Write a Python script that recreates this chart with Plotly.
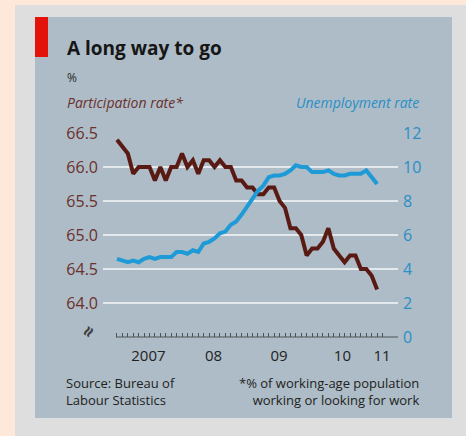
import plotly.graph_objects as go

# ---- data (monthly, Jan 2007 .. Jan 2011) ----
month_index = list(range(49))
participation = [66.4, 66.3, 66.2, 65.9, 66.0, 66.0, 66.0, 65.8, 66.0, 65.8, 66.0, 66.0,
                 66.2, 66.0, 66.1, 65.9, 66.1, 66.1, 66.0, 66.1, 66.0, 66.0, 65.8, 65.8,
                 65.7, 65.7, 65.6, 65.6, 65.7, 65.7, 65.5, 65.4, 65.1, 65.1, 65.0, 64.7,
                 64.8, 64.8, 64.9, 65.1, 64.8, 64.7, 64.6, 64.7, 64.7, 64.5, 64.5, 64.4,
                 64.2]
unemployment = [4.6, 4.5, 4.4, 4.5, 4.4, 4.6, 4.7, 4.6, 4.7, 4.7, 4.7, 5.0,
                5.0, 4.9, 5.1, 5.0, 5.5, 5.6, 5.8, 6.1, 6.2, 6.6, 6.8, 7.2,
                7.7, 8.2, 8.6, 8.9, 9.4, 9.5, 9.5, 9.6, 9.8, 10.1, 10.0, 10.0,
                9.7, 9.7, 9.7, 9.8, 9.6, 9.5, 9.5, 9.6, 9.6, 9.6, 9.8, 9.4,
                9.0]
year_label_pos = [5.8, 17.8, 29.9, 41.6, 48.9]
year_labels = ["2007", "08", "09", "10", "11"]
year_boundaries = [0, 12, 24, 36, 48]
left_ticks = [64.0, 64.5, 65.0, 65.5, 66.0, 66.5]
left_ticktext = ["64.0", "64.5", "65.0", "65.5", "66.0", "66.5"]
right_ticks = [0, 2, 4, 6, 8, 10, 12]

# ---- layout geometry (pixels) ----
W, H = 466, 436
PL, PR, PT, PB = 103, 398, 133, 337


def px(x):
    return (x - PL) / (PR - PL)


def py(y):
    return (PB - y) / (PB - PT)


FONT = "Open Sans"
RED_LINE = "#5a1a14"
BLUE_LINE = "#1e9bd7"
RED_TXT = "#6b302c"
BLUE_TXT = "#2a8fc6"
PANEL = "#adbcc6"
X_RANGE = [-2.58, 51.85]

fig = go.Figure()
fig.add_trace(go.Scatter(x=month_index, y=participation, mode="lines",
                         line=dict(color=RED_LINE, width=4), yaxis="y",
                         hoverinfo="skip"))
fig.add_trace(go.Scatter(x=month_index, y=unemployment, mode="lines",
                         line=dict(color=BLUE_LINE, width=4), yaxis="y2",
                         hoverinfo="skip"))

shapes = [
    dict(type="rect", xref="paper", yref="paper", x0=px(15), x1=px(470),
         y0=py(5), y1=py(440), fillcolor="#dedede", line_width=0, layer="below"),
    dict(type="rect", xref="paper", yref="paper", x0=px(35), x1=px(452),
         y0=py(17), y1=py(418), fillcolor=PANEL, line_width=0, layer="below"),
    dict(type="rect", xref="paper", yref="paper", x0=px(35), x1=px(48),
         y0=py(17), y1=py(57), fillcolor="#e3120b", line_width=0, layer="below"),
    dict(type="line", xref="x", yref="paper", x0=-0.2, x1=X_RANGE[1], y0=0, y1=0,
         line=dict(color="#4d5257", width=1)),
]

annotations = [
    dict(text="<b>A long way to go</b>", x=px(65), y=py(48), xref="paper", yref="paper",
         xanchor="left", yanchor="middle", showarrow=False,
         font=dict(family=FONT, size=19, color="#161616")),
    dict(text="%", x=px(65), y=py(77), xref="paper", yref="paper",
         xanchor="left", yanchor="middle", showarrow=False,
         font=dict(family=FONT, size=12, color="#2a2a2a")),
    dict(text="<i>Participation rate*</i>", x=px(65), y=py(102), xref="paper", yref="paper",
         xanchor="left", yanchor="middle", showarrow=False,
         font=dict(family=FONT, size=14, color=RED_TXT)),
    dict(text="<i>Unemployment rate</i>", x=px(421), y=py(102), xref="paper", yref="paper",
         xanchor="right", yanchor="middle", showarrow=False,
         font=dict(family=FONT, size=14, color=BLUE_TXT)),
    dict(text="Source: Bureau of<br>Labour Statistics", x=px(64), y=py(391), xref="paper",
         yref="paper", xanchor="left", yanchor="middle", align="left", showarrow=False,
         font=dict(family=FONT, size=13, color="#222222")),
    dict(text="*% of working-age population<br>working or looking for work", x=px(421),
         y=py(391), xref="paper", yref="paper", xanchor="right", yanchor="middle",
         align="right", showarrow=False,
         font=dict(family=FONT, size=13, color="#222222")),
    dict(text="<b>≈</b>", x=px(88), y=py(332), xref="paper", yref="paper",
         xanchor="center", yanchor="middle", showarrow=False, textangle=-60,
         font=dict(family=FONT, size=19, color="#3e3e3e")),
]

fig.update_layout(
    width=W, height=H,
    margin=dict(l=PL, r=W - PR, t=PT, b=H - PB, pad=0),
    paper_bgcolor="#fde8da",
    plot_bgcolor="rgba(0,0,0,0)",
    showlegend=False,
    shapes=shapes,
    annotations=annotations,
    xaxis=dict(range=X_RANGE, showgrid=False, zeroline=False, showline=False,
               tickmode="array", tickvals=year_label_pos, ticktext=year_labels,
               ticks="", ticklabelstandoff=8,
               tickfont=dict(family=FONT, size=15, color="#222222"),
               minor=dict(tickmode="array", tickvals=month_index + [49], ticks="inside",
                          ticklen=4, tickwidth=1, tickcolor="#4d5257", showgrid=False)),
    xaxis2=dict(range=X_RANGE, overlaying="x", anchor="y", side="bottom",
                showgrid=False, zeroline=False, showline=False,
                tickmode="array", tickvals=year_boundaries, ticks="inside",
                ticklen=8, tickwidth=1, tickcolor="#4d5257", showticklabels=False),
    yaxis=dict(range=[63.5, 66.5], tickmode="array", tickvals=left_ticks,
               ticktext=left_ticktext, showgrid=True, gridcolor="#e3e9ed", gridwidth=2,
               zeroline=False, showline=False, ticks="", ticklabelstandoff=4,
               tickfont=dict(family=FONT, size=16, color=RED_TXT)),
    yaxis2=dict(range=[0, 12], overlaying="y", side="right", tickmode="array",
                tickvals=right_ticks, showgrid=False, zeroline=False, showline=False,
                ticks="", ticklabelstandoff=4,
                tickfont=dict(family=FONT, size=16, color=BLUE_TXT)),
)

fig.write_html("out.html",
               config={"displayModeBar": False, "staticPlot": True},
               post_script="document.body.style.margin='0';document.body.style.overflow='hidden';")
